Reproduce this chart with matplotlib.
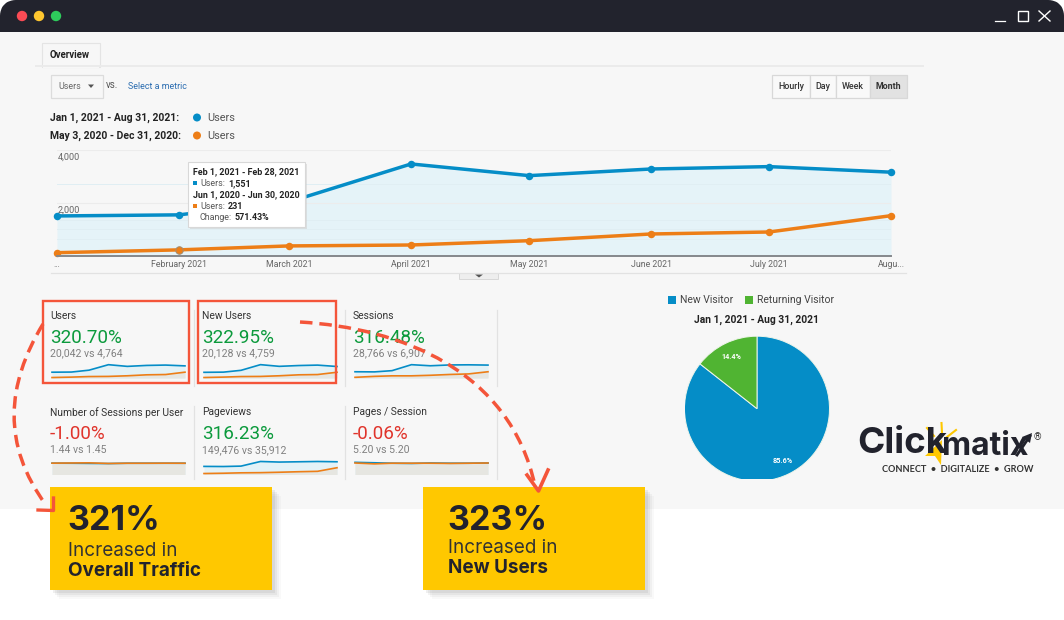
"""Recreate the analytics comparison screenshot with callouts."""

from datetime import date

import matplotlib
import matplotlib.pyplot as plt
from matplotlib.patches import Circle, FancyBboxPatch, PathPatch, Polygon, Rectangle
from matplotlib.path import Path
from matplotlib.transforms import ScaledTranslation

matplotlib.use("Agg")

W, H = 1064, 620

BLUE = "#058dc7"
ORANGE = "#ed7e17"
GREEN = "#50b432"
RED = "#f4553a"
YELLOW = "#ffc800"
DARK = "#22232d"

MONTHS = [date(2021, m, 1) for m in range(1, 9)]
MONTH_LABELS = ["...", "February 2021", "March 2021", "April 2021", "May 2021",
                "June 2021", "July 2021", "Augu..."]
USERS_CURRENT = [1510, 1551, 2040, 3470, 3030, 3280, 3370, 3160]
USERS_PREVIOUS = [125, 231, 380, 415, 577, 830, 905, 1520]
Y_TICKS = [2000, 4000]
Y_TICK_LABELS = ["2,000", "4,000"]
FAINT_LINES = [640, 1020, 1360, 2720]

PIE_LABELS = ["New Visitor", "Returning Visitor"]
PIE_VALUES = [85.6, 14.4]

METRIC_NAMES = ["Users", "New Users", "Sessions",
                "Number of Sessions per User", "Pageviews", "Pages / Session"]
METRIC_CHANGES = ["320.70%", "322.95%", "316.48%", "-1.00%", "316.23%", "-0.06%"]
METRIC_COMPARE = ["20,042 vs 4,764", "20,128 vs 4,759", "28,766 vs 6,907",
                  "1.44 vs 1.45", "149,476 vs 35,912", "5.20 vs 5.20"]
SPARK_CURRENT = [
    USERS_CURRENT,
    [1480, 1530, 2000, 3480, 3040, 3250, 3360, 3000],
    [2300, 2250, 2700, 4900, 4500, 4800, 4850, 4750],
    [1.45, 1.44, 1.42, 1.40, 1.44, 1.44, 1.44, 1.44],
    [14000, 13800, 14500, 22500, 21500, 22000, 22500, 22000],
    [5.6, 5.4, 5.2, 5.1, 5.3, 5.2, 5.2, 5.3],
]
SPARK_PREVIOUS = [
    USERS_PREVIOUS,
    [125, 235, 380, 410, 580, 830, 900, 1500],
    [250, 600, 800, 800, 1000, 1300, 1500, 2300],
    [1.45, 1.47, 1.49, 1.41, 1.44, 1.44, 1.45, 1.44],
    [1700, 2200, 2900, 3200, 3900, 4800, 5500, 11700],
    [5.3, 4.9, 5.2, 5.2, 5.2, 5.1, 5.2, 5.3],
]
SPARK_YMAX = [3650, 3650, 5150, 1.79, 24200, 6.45]

BUTTONS = ["Hourly", "Day", "Week", "Month"]
BUTTON_EDGES = [772, 810, 836, 870, 907]


def px_axes(fig, left, top, width, height, zorder=1):
    """Add axes placed by pixel box, y measured from the top."""
    ax = fig.add_axes([left / W, 1 - (top + height) / H, width / W, height / H], zorder=zorder)
    ax.patch.set_alpha(0)
    return ax


def label(ax, x, y, s, size=8, color="#333333", weight="normal", family="Roboto", ha="left", **kw):
    ax.text(x, y + 0.7, s, fontsize=size, color=color, fontweight=weight, family=family,
            ha=ha, va="center", **kw)


def rect(ax, x0, y0, x1, y1, **kw):
    ax.add_patch(Rectangle((x0, y0), x1 - x0, y1 - y0, **kw))


def draw_window(ax):
    rect(ax, 0, 20, W, 509, fc="#f7f7f7", ec="none")
    ax.add_patch(FancyBboxPatch((8, 8), W - 16, 40, boxstyle="round,pad=0,rounding_size=8",
                                mutation_aspect=1, fc=DARK, ec=DARK, lw=16 * 0.72, joinstyle="round"))
    rect(ax, 0, 32, W, 60, fc="#f7f7f7", ec="none")
    for x, c in zip([22, 39, 56], ["#fb4b55", "#fec62f", "#2ecc5c"]):
        ax.add_patch(Circle((x, 16), 5.2, fc=c, ec="none"))
    ax.plot([995, 1005], [21, 21], color="white", lw=0.9)
    rect(ax, 1018, 11, 1028, 21, fc="none", ec="white", lw=1.0)
    ax.plot([1039, 1050], [11, 21], color="white", lw=1.0)
    ax.plot([1039, 1050], [21, 11], color="white", lw=1.0)


def draw_toolbar(ax):
    ax.plot([36, 923], [66, 66], color="#ebebeb", lw=1.4)
    rect(ax, 42, 43, 100, 67, fc="#f7f7f7", ec="#e4e4e4", lw=0.8)
    rect(ax, 43, 64, 99, 68, fc="#f7f7f7", ec="none")
    label(ax, 50, 54.5, "Overview", size=7, weight="bold", color="#222222")
    rect(ax, 50.5, 74.5, 103, 98, fc="#f7f7f7", ec="#dcdcdc", lw=0.9)
    label(ax, 58, 86, "Users", size=6.4, color="#666666")
    ax.add_patch(Polygon([[88, 84.5], [94, 84.5], [91, 88]], fc="#555555", ec="none"))
    label(ax, 106, 84.5, "vs.", size=7, color="#555555")
    label(ax, 128, 86, "Select a metric", size=6.4, color="#2a6cb0")
    for i, name in enumerate(BUTTONS):
        active = name == "Month"
        rect(ax, BUTTON_EDGES[i], 74.5, BUTTON_EDGES[i + 1], 98,
             fc="#e2e2e2" if active else "#f9f9f9", ec="#d8d8d8", lw=0.9)
        label(ax, (BUTTON_EDGES[i] + BUTTON_EDGES[i + 1]) / 2, 86, name, size=6.4,
              weight="bold" if active else "medium", color="#333333", ha="center")
    for y, dates, c in [(117.5, "Jan 1, 2021 - Aug 31, 2021:", BLUE),
                        (135.5, "May 3, 2020 - Dec 31, 2020:", ORANGE)]:
        label(ax, 50, y, dates, size=7.5, weight="bold", color="#222222")
        ax.add_patch(Circle((197, y), 4, fc=c, ec="none"))
        label(ax, 207, y, "Users", size=7.8, color="#555555")
    # bottom rule and drag handle under the chart
    ax.plot([51, 906], [272.5, 272.5], color="#e2e2e2", lw=0.9)
    rect(ax, 459, 272.5, 498, 279, fc="#eeeeee", ec="#d8d8d8", lw=0.7)
    ax.add_patch(Polygon([[475, 274.5], [483, 274.5], [479, 277.5]], fc="#555555", ec="none"))


def draw_main_chart(fig):
    ax = px_axes(fig, 57, 149.9, 834, 106.1, zorder=1)
    ax.set_xlim(MONTHS[0], MONTHS[-1])
    ax.set_ylim(0, 4000)
    ax.fill_between(MONTHS, USERS_CURRENT, 0, color="#e5f3f8", lw=0)
    for v in FAINT_LINES:
        ax.axhline(v, color="#e0eef3", lw=0.7)
    ax.grid(True, axis="y", color="#ececec", lw=0.8)
    ax.set_axisbelow(False)
    ax.plot(MONTHS, USERS_CURRENT, color=BLUE, lw=2.5, marker="o", ms=5.4, mew=0, clip_on=False)
    ax.plot(MONTHS, USERS_PREVIOUS, color=ORANGE, lw=2.5, marker="o", ms=5.4, mew=0, clip_on=False)
    # hovered month has a grey ring on the orange point
    ax.plot(MONTHS[1], USERS_PREVIOUS[1], marker="o", ms=5.4, mfc=ORANGE, mec="#a08f78", mew=0.7,
            clip_on=False)
    ax.set_yticks(Y_TICKS)
    ax.set_yticklabels(Y_TICK_LABELS, fontsize=6.6, color="#666666", family="Roboto")
    ax.tick_params(axis="y", length=0, direction="in", pad=-0.4)
    shift = ScaledTranslation(0, -1.8 / 72, fig.dpi_scale_trans)
    for tick in ax.get_yticklabels():
        tick.set_ha("left")
        tick.set_va("top")
        tick.set_transform(tick.get_transform() + shift)
    ax.set_xticks(MONTHS)
    ax.set_xticklabels(MONTH_LABELS, fontsize=6.3, color="#666666", family="Roboto")
    ax.tick_params(axis="x", length=0, pad=3)
    for side in ["top", "left", "right"]:
        ax.spines[side].set_visible(False)
    ax.spines["bottom"].set_color("#85888c")
    ax.spines["bottom"].set_linewidth(1.4)


def draw_tooltip(ax):
    rect(ax, 189.5, 164, 306.5, 229, fc="#cccccc", ec="none", alpha=0.5)
    rect(ax, 188, 162, 305, 227, fc="white", ec="#d8d8d8", lw=0.8)
    label(ax, 193, 171, "Feb 1, 2021 - Feb 28, 2021", size=6.4, weight="bold", color="#222222")
    rect(ax, 193, 181, 197, 185, fc=BLUE, ec="none")
    label(ax, 200, 183, "Users:", size=6.4, color="#555555")
    label(ax, 228, 183, "1,551", size=6.4, weight="bold", color="#222222")
    label(ax, 193, 194.5, "Jun 1, 2020 - Jun 30, 2020", size=6.4, weight="bold", color="#222222")
    rect(ax, 193, 204, 197, 208, fc=ORANGE, ec="none")
    label(ax, 200, 206, "Users:", size=6.4, color="#555555")
    label(ax, 228, 206, "231", size=6.4, weight="bold", color="#222222")
    label(ax, 200, 217, "Change:", size=6.4, color="#555555")
    label(ax, 235, 217, "571.43%", size=6.4, weight="bold", color="#222222")


def draw_metrics(fig, ax):
    lefts = [50, 202, 353]
    tops = [315, 411.5]
    sep_xs = [193.5, 345, 496.5]
    sep_spans = [(310, 386), (406, 479)]
    for i, name in enumerate(METRIC_NAMES):
        x = lefts[i % 3]
        y = tops[i // 3]
        good = not METRIC_CHANGES[i].startswith("-")
        label(ax, x, y, name, size=7.4, color="#333333")
        label(ax, x, y + 22, METRIC_CHANGES[i], size=13.6, color="#0b9a3c" if good else "#e0342b")
        label(ax, x, y + 38, METRIC_COMPARE[i], size=7.6, color="#808080")

        ax.plot([sep_xs[i % 3]] * 2, sep_spans[i // 3], color="#e2e2e2", lw=0.9)

        spark = px_axes(fig, x + 2, y + 49, 133, 14, zorder=1)
        spark.set_xlim(MONTHS[0], MONTHS[-1])
        spark.set_ylim(0, SPARK_YMAX[i])
        spark.axis("off")
        spark.fill_between(MONTHS, SPARK_CURRENT[i], 0, color="#e3f2f7", lw=0)
        spark.fill_between(MONTHS, SPARK_PREVIOUS[i], 0, color="#e6e6e1", lw=0)
        spark.plot(MONTHS, SPARK_CURRENT[i], color=BLUE, lw=1.2, clip_on=False)
        spark.plot(MONTHS, SPARK_PREVIOUS[i], color=ORANGE, lw=1.2, clip_on=False)


def draw_pie(fig, ax):
    # the pie is cut off at the bottom by the panel, so the axes stop short of the circle
    pie_ax = px_axes(fig, 684.5, 336.2, 145, 142.8, zorder=1)
    wedges, _, pct = pie_ax.pie(PIE_VALUES, colors=[BLUE, GREEN], startangle=90, counterclock=False,
                                radius=1.0, autopct="%.1f%%", pctdistance=0.8,
                                wedgeprops={"ec": "#eef5ea", "lw": 0.7})
    pie_ax.set_aspect("auto")
    pie_ax.set_xlim(-1, 1)
    pie_ax.set_ylim(1 - 142.8 / 72.5, 1)
    for wedge in wedges:
        wedge.set_clip_on(True)
        wedge.set_clip_box(pie_ax.bbox)
    for t in pct:
        t.set(color="white", fontsize=5.2, family="Roboto", fontweight="bold")

    rect(ax, 668, 296, 676, 304, fc=BLUE, ec="none")
    label(ax, 680, 299.5, PIE_LABELS[0], size=7.5, color="#444444")
    rect(ax, 745, 296, 753, 304, fc=GREEN, ec="none")
    label(ax, 757, 299.5, PIE_LABELS[1], size=7.5, color="#444444")
    label(ax, 757, 319.5, "Jan 1, 2021 - Aug 31, 2021", size=7.4, weight="bold", color="#222222", ha="center")


def draw_logo(ax):
    label(ax, 857, 442.5, "Click", size=26.5, weight="bold", color=DARK, family="Inter")
    label(ax, 942, 445.5, "matix", size=23, weight="bold", color=DARK, family="Inter")
    ax.add_patch(Polygon([[942, 440], [941, 465], [935, 456], [925, 456]], fc=YELLOW, ec="none"))
    for seg in [([927, 934], [428, 436]), ([941.5, 942], [423, 433]), ([947, 956], [437, 430])]:
        ax.plot(seg[0], seg[1], color=YELLOW, lw=1.5)
    ax.plot([1017, 1030], [455, 436], color=DARK, lw=2)
    ax.add_patch(Polygon([[1032, 433], [1022, 437], [1030, 443]], fc=DARK, ec="none"))
    label(ax, 1034, 436, "®", size=7, color="#333333")
    label(ax, 882, 469, "CONNECT  •  DIGITALIZE  •  GROW", size=6.6, weight="bold", color="#333333", family="Lato")


def draw_callout(ax, x0, big, line1, line2, text_x, big_y, y1, y2):
    for off, alpha in [(9, 0.03), (7, 0.05), (5, 0.07), (3, 0.09)]:
        rect(ax, x0 + off, 487 + off, x0 + 222 + off, 590 + off, fc="#555555", ec="none", alpha=alpha)
    rect(ax, x0, 487, x0 + 222, 590, fc=YELLOW, ec="none")
    label(ax, text_x - 1, big_y, big, size=24.5, weight="bold", color=DARK, family="Inter")
    label(ax, text_x, y1, line1, size=13.6, color="#333333", family="Inter")
    label(ax, text_x, y2, line2, size=13.6, weight="bold", color=DARK, family="Inter")


def draw_arrows(ax):
    rect(ax, 42.5, 301, 189, 382.5, fc="none", ec=RED, lw=1.7)
    rect(ax, 198, 301, 336, 382.5, fc="none", ec=RED, lw=1.7)
    dash = (0, (3.6, 2.0))
    left = Path([(43, 324), (6, 385), (2, 445), (46, 505)],
                [Path.MOVETO, Path.CURVE4, Path.CURVE4, Path.CURVE4])
    right = Path([(300, 322), (400, 328), (510, 370), (535, 486)],
                 [Path.MOVETO, Path.CURVE4, Path.CURVE4, Path.CURVE4])
    for path in (left, right):
        ax.add_patch(PathPatch(path, fc="none", ec=RED, lw=2.5, linestyle=dash))
    ax.plot([53.5, 53.5, 38], [498, 510.5, 510], color=RED, lw=2.4, solid_joinstyle="round")
    ax.plot([527, 538.5, 548], [475, 491, 470], color=RED, lw=2.6, solid_joinstyle="round")


def main():
    fig = plt.figure(figsize=(W / 100, H / 100), dpi=100, facecolor="white")

    base = px_axes(fig, 0, 0, W, H, zorder=0)
    top = px_axes(fig, 0, 0, W, H, zorder=3)
    for ax in (base, top):
        ax.set_xlim(0, W)
        ax.set_ylim(H, 0)
        ax.axis("off")

    draw_window(base)
    draw_toolbar(base)
    draw_main_chart(fig)
    draw_tooltip(top)
    draw_metrics(fig, base)
    draw_pie(fig, base)
    draw_logo(base)
    draw_callout(top, 50, "321%", "Increased in", "Overall Traffic", 68, 520, 550.5, 570.5)
    draw_callout(top, 423, "323%", "Increased in", "New Users", 448, 520, 547.5, 567.5)
    draw_arrows(top)

    fig.savefig("out.png", dpi=100, facecolor="white")
    plt.close(fig)


if __name__ == "__main__":
    main()
